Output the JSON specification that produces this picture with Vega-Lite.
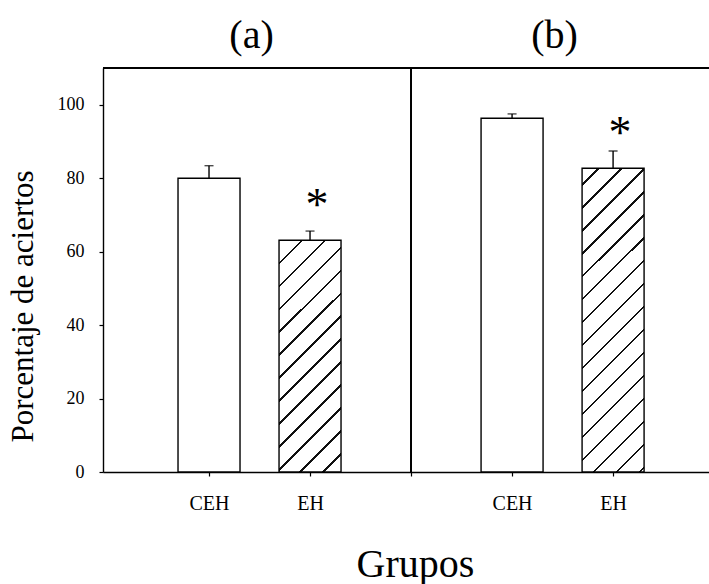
{
  "$schema": "https://vega.github.io/schema/vega-lite/v6.json",
  "autosize": {"type": "none"},
  "padding": {"left": 103, "top": 68, "right": 0, "bottom": 112},
  "width": 606,
  "height": 404,
  "background": "white",
  "config": {
    "view": {"stroke": null},
    "font": "Liberation Serif",
    "axis": {"grid": false, "domainColor": "black", "tickColor": "black", "domainWidth": 1.4, "tickWidth": 1.2, "labelColor": "black", "titleColor": "black", "labelFont": "Liberation Serif", "titleFont": "Liberation Serif", "titleFontWeight": "normal"}
  },
  "data": {
    "values": [
      {"panel": "(a)", "grupo": "CEH", "pos": 1, "media": 80, "sup": 83.4, "sig": ""},
      {"panel": "(a)", "grupo": "EH", "pos": 2, "media": 63.1, "sup": 65.6, "sig": "*"},
      {"panel": "(b)", "grupo": "CEH", "pos": 4, "media": 96.3, "sup": 97.5, "sig": ""},
      {"panel": "(b)", "grupo": "EH", "pos": 5, "media": 82.7, "sup": 87.4, "sig": "*"}
    ]
  },
  "layer": [
    {
      "transform": [{"filter": "datum.grupo === 'CEH'"}],
      "mark": {"type": "bar", "size": 62, "fill": "white", "stroke": "black", "strokeWidth": 1.4},
      "encoding": {
        "x": {
          "field": "pos", "type": "quantitative",
          "scale": {"domain": [0, 5.9], "nice": false, "zero": false},
          "axis": {
            "values": [1, 2, 3, 4, 5],
            "labelExpr": "datum.value == 1 || datum.value == 4 ? 'CEH' : (datum.value == 2 || datum.value == 5 ? 'EH' : '')",
            "labelFontSize": 20, "labelPadding": 17, "tickSize": 4,
            "title": "Grupos", "titleFontSize": 40, "titleX": 312, "titleY": 104, "titleBaseline": "alphabetic", "titleAlign": "center"
          }
        },
        "y": {
          "field": "media", "type": "quantitative",
          "scale": {"domain": [0, 110], "nice": false},
          "axis": {
            "values": [0, 20, 40, 60, 80, 100],
            "labelFontSize": 18, "labelPadding": 15, "tickSize": 4,
            "title": "Porcentaje de aciertos", "titleFontSize": 31, "titleX": -80, "titleY": 238, "titleBaseline": "middle", "titleAlign": "center", "titleAngle": -90
          }
        }
      }
    },
    {
      "transform": [{"filter": "datum.panel === '(a)' && datum.grupo === 'EH'"}],
      "mark": {
        "type": "bar", "size": 62, "stroke": "black", "strokeWidth": 1.4,
        "fill": {
          "gradient": "linear", "x1": 0, "y1": 0, "x2": 0.3161, "y2": 1.1828,
          "stops": [
            {"offset": 0, "color": "white"},
            {"offset": 0.0742, "color": "white"}, {"offset": 0.0742, "color": "#111"}, {"offset": 0.0822, "color": "#111"}, {"offset": 0.0822, "color": "white"},
            {"offset": 0.1524, "color": "white"}, {"offset": 0.1524, "color": "#111"}, {"offset": 0.1604, "color": "#111"}, {"offset": 0.1604, "color": "white"},
            {"offset": 0.2306, "color": "white"}, {"offset": 0.2306, "color": "#111"}, {"offset": 0.2386, "color": "#111"}, {"offset": 0.2386, "color": "white"},
            {"offset": 0.3088, "color": "white"}, {"offset": 0.3088, "color": "#111"}, {"offset": 0.3168, "color": "#111"}, {"offset": 0.3168, "color": "white"},
            {"offset": 0.3870, "color": "white"}, {"offset": 0.3870, "color": "#111"}, {"offset": 0.3950, "color": "#111"}, {"offset": 0.3950, "color": "white"},
            {"offset": 0.4652, "color": "white"}, {"offset": 0.4652, "color": "#111"}, {"offset": 0.4732, "color": "#111"}, {"offset": 0.4732, "color": "white"},
            {"offset": 0.5434, "color": "white"}, {"offset": 0.5434, "color": "#111"}, {"offset": 0.5514, "color": "#111"}, {"offset": 0.5514, "color": "white"},
            {"offset": 0.6216, "color": "white"}, {"offset": 0.6216, "color": "#111"}, {"offset": 0.6296, "color": "#111"}, {"offset": 0.6296, "color": "white"},
            {"offset": 0.6998, "color": "white"}, {"offset": 0.6998, "color": "#111"}, {"offset": 0.7078, "color": "#111"}, {"offset": 0.7078, "color": "white"},
            {"offset": 0.7780, "color": "white"}, {"offset": 0.7780, "color": "#111"}, {"offset": 0.7860, "color": "#111"}, {"offset": 0.7860, "color": "white"},
            {"offset": 0.8562, "color": "white"}, {"offset": 0.8562, "color": "#111"}, {"offset": 0.8642, "color": "#111"}, {"offset": 0.8642, "color": "white"},
            {"offset": 0.9344, "color": "white"}, {"offset": 0.9344, "color": "#111"}, {"offset": 0.9424, "color": "#111"}, {"offset": 0.9424, "color": "white"},
            {"offset": 1, "color": "white"}
          ]
        }
      },
      "encoding": {
        "x": {"field": "pos", "type": "quantitative"},
        "y": {"field": "media", "type": "quantitative"}
      }
    },
    {
      "transform": [{"filter": "datum.panel === '(b)' && datum.grupo === 'EH'"}],
      "mark": {
        "type": "bar", "size": 62, "stroke": "black", "strokeWidth": 1.4,
        "fill": {
          "gradient": "linear", "x1": 0, "y1": 0, "x2": 0.2357, "y2": 1.1559,
          "stops": [
            {"offset": 0, "color": "white"},
            {"offset": 0.0422, "color": "white"}, {"offset": 0.0422, "color": "#111"}, {"offset": 0.0486, "color": "#111"}, {"offset": 0.0486, "color": "white"},
            {"offset": 0.1050, "color": "white"}, {"offset": 0.1050, "color": "#111"}, {"offset": 0.1114, "color": "#111"}, {"offset": 0.1114, "color": "white"},
            {"offset": 0.1678, "color": "white"}, {"offset": 0.1678, "color": "#111"}, {"offset": 0.1742, "color": "#111"}, {"offset": 0.1742, "color": "white"},
            {"offset": 0.2306, "color": "white"}, {"offset": 0.2306, "color": "#111"}, {"offset": 0.2370, "color": "#111"}, {"offset": 0.2370, "color": "white"},
            {"offset": 0.2934, "color": "white"}, {"offset": 0.2934, "color": "#111"}, {"offset": 0.2998, "color": "#111"}, {"offset": 0.2998, "color": "white"},
            {"offset": 0.3562, "color": "white"}, {"offset": 0.3562, "color": "#111"}, {"offset": 0.3626, "color": "#111"}, {"offset": 0.3626, "color": "white"},
            {"offset": 0.4190, "color": "white"}, {"offset": 0.4190, "color": "#111"}, {"offset": 0.4254, "color": "#111"}, {"offset": 0.4254, "color": "white"},
            {"offset": 0.4818, "color": "white"}, {"offset": 0.4818, "color": "#111"}, {"offset": 0.4882, "color": "#111"}, {"offset": 0.4882, "color": "white"},
            {"offset": 0.5446, "color": "white"}, {"offset": 0.5446, "color": "#111"}, {"offset": 0.5510, "color": "#111"}, {"offset": 0.5510, "color": "white"},
            {"offset": 0.6074, "color": "white"}, {"offset": 0.6074, "color": "#111"}, {"offset": 0.6138, "color": "#111"}, {"offset": 0.6138, "color": "white"},
            {"offset": 0.6702, "color": "white"}, {"offset": 0.6702, "color": "#111"}, {"offset": 0.6766, "color": "#111"}, {"offset": 0.6766, "color": "white"},
            {"offset": 0.7330, "color": "white"}, {"offset": 0.7330, "color": "#111"}, {"offset": 0.7394, "color": "#111"}, {"offset": 0.7394, "color": "white"},
            {"offset": 0.7958, "color": "white"}, {"offset": 0.7958, "color": "#111"}, {"offset": 0.8022, "color": "#111"}, {"offset": 0.8022, "color": "white"},
            {"offset": 0.8586, "color": "white"}, {"offset": 0.8586, "color": "#111"}, {"offset": 0.8650, "color": "#111"}, {"offset": 0.8650, "color": "white"},
            {"offset": 0.9214, "color": "white"}, {"offset": 0.9214, "color": "#111"}, {"offset": 0.9278, "color": "#111"}, {"offset": 0.9278, "color": "white"},
            {"offset": 0.9842, "color": "white"}, {"offset": 0.9842, "color": "#111"}, {"offset": 0.9906, "color": "#111"}, {"offset": 0.9906, "color": "white"},
            {"offset": 1, "color": "white"}
          ]
        }
      },
      "encoding": {
        "x": {"field": "pos", "type": "quantitative"},
        "y": {"field": "media", "type": "quantitative"}
      }
    },
    {
      "mark": {"type": "rule", "color": "black", "strokeWidth": 1.4},
      "encoding": {
        "x": {"field": "pos", "type": "quantitative"},
        "y": {"field": "media", "type": "quantitative"},
        "y2": {"field": "sup"}
      }
    },
    {
      "mark": {"type": "tick", "orient": "horizontal", "color": "black", "size": 9, "thickness": 1.4},
      "encoding": {
        "x": {"field": "pos", "type": "quantitative"},
        "y": {"field": "sup", "type": "quantitative"}
      }
    },
    {
      "transform": [{"filter": "datum.sig === '*'"}],
      "mark": {"type": "text", "fontSize": 46, "font": "Liberation Serif", "color": "black", "baseline": "alphabetic", "align": "center", "dx": 7, "dy": -20},
      "encoding": {
        "x": {"field": "pos", "type": "quantitative"},
        "y": {"field": "media", "type": "quantitative"},
        "text": {"field": "sig"}
      }
    },
    {
      "transform": [{"aggregate": [{"op": "mean", "field": "pos", "as": "centro"}], "groupby": ["panel"]}],
      "mark": {"type": "text", "fontSize": 40, "font": "Liberation Serif", "color": "black", "baseline": "alphabetic", "align": "center", "dx": -8},
      "encoding": {
        "x": {"field": "centro", "type": "quantitative"},
        "y": {"datum": 115.4},
        "text": {"field": "panel"}
      }
    },
    {
      "mark": {"type": "rule", "color": "black", "strokeWidth": 1.4},
      "encoding": {"y": {"datum": 110}}
    },
    {
      "mark": {"type": "rule", "color": "black", "strokeWidth": 1.4},
      "encoding": {"x": {"datum": 3}}
    }
  ]
}
